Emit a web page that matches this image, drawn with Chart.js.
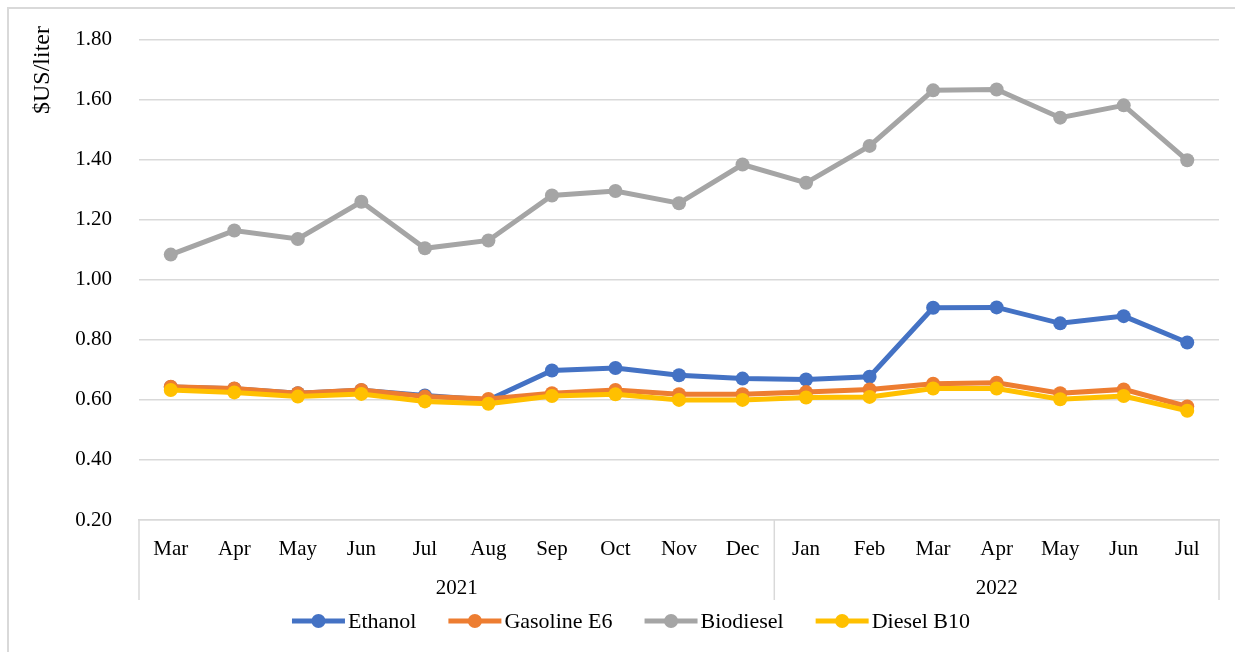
<!DOCTYPE html>
<html>
<head>
<meta charset="utf-8">
<script src="https://cdn.jsdelivr.net/npm/chart.js@4"></script>
<style>
	html, body { margin: 0; padding: 0; background: #fff; overflow: hidden; }
	#wrap { position: relative; width: 1235px; height: 652px; }
	#frame { position: absolute; left: 7px; top: 7px; width: 1240px; height: 660px; border: 2px solid #d9d9d9; box-sizing: border-box; }
	#myChart { position: absolute; left: 0; top: 0; }
</style>
</head>
<body>
<div id="wrap">
	<div id="frame"></div>
	<canvas id="myChart" width="1235" height="652"></canvas>
</div>
<script>

// 데이터
const months = ['Mar', 'Apr', 'May', 'Jun', 'Jul', 'Aug', 'Sep', 'Oct', 'Nov', 'Dec', 'Jan', 'Feb', 'Mar', 'Apr', 'May', 'Jun', 'Jul'];
const years = ['2021', '2022'];
const yearCounts = [10, 7];	// 각 연도에 속한 달 수

const ethanol = [0.643, 0.637, 0.622, 0.632, 0.615, 0.600, 0.698, 0.706, 0.682, 0.671, 0.668, 0.677, 0.907, 0.908, 0.855, 0.879, 0.791];
const gasolineE6 = [0.644, 0.638, 0.622, 0.633, 0.611, 0.603, 0.622, 0.633, 0.619, 0.619, 0.626, 0.635, 0.654, 0.657, 0.622, 0.635, 0.578];
const biodiesel = [1.084, 1.164, 1.136, 1.260, 1.105, 1.131, 1.281, 1.296, 1.255, 1.384, 1.323, 1.446, 1.631, 1.634, 1.540, 1.581, 1.398];
const dieselB10 = [0.633, 0.625, 0.611, 0.620, 0.595, 0.587, 0.613, 0.619, 0.600, 0.600, 0.608, 0.610, 0.638, 0.638, 0.602, 0.613, 0.564];

const yMin = 0.2;
const yMax = 1.8;
const yStep = 0.2;
const yTitle = '$US/liter';

const seriesNames = ['Ethanol', 'Gasoline E6', 'Biodiesel', 'Diesel B10'];
const seriesData = [ethanol, gasolineE6, biodiesel, dieselB10];
const seriesColors = ['#4472c4', '#ed7d31', '#a5a5a5', '#ffc000'];

const FONT = '"Liberation Serif", "Times New Roman", serif';

// 데이터셋 만들기
let datasets = [];
for (let i = 0; i < seriesNames.length; i++) {
	datasets.push({
		label: seriesNames[i],
		data: seriesData[i],
		borderColor: seriesColors[i],
		backgroundColor: seriesColors[i],
		pointBackgroundColor: seriesColors[i],
		borderWidth: 5,
		pointRadius: 7,
		pointBorderWidth: 0,
		order: seriesNames.length - i	// 뒤에 있는 시리즈가 위에 그려지도록
	});
}

// 연도 줄 + 구분선
const yearAxis = {
	id: 'yearAxis',
	afterDraw(chart) {
		const ctx = chart.ctx;
		const x = chart.scales.x;
		const area = chart.chartArea;
		const top = area.bottom;
		const bottom = 600;

		ctx.save();
		ctx.strokeStyle = '#d9d9d9';
		ctx.lineWidth = 1.5;

		let start = 0;
		let edges = [area.left];
		for (let i = 0; i < years.length; i++) {
			const end = start + yearCounts[i] - 1;
			const right = (i == years.length - 1) ? area.right
				: (x.getPixelForTick(end) + x.getPixelForTick(end + 1)) / 2;
			edges.push(right);
			start = end + 1;
		}
		edges.forEach(e => {
			ctx.beginPath();
			ctx.moveTo(e, top);
			ctx.lineTo(e, bottom);
			ctx.stroke();
		});

		ctx.fillStyle = '#000';
		ctx.font = '21px ' + FONT;
		ctx.textAlign = 'center';
		ctx.textBaseline = 'alphabetic';
		for (let i = 0; i < years.length; i++) {
			ctx.fillText(years[i], (edges[i] + edges[i + 1]) / 2, 594);
		}

		// y축 제목
		ctx.translate(43, 70);
		ctx.rotate(-Math.PI / 2);
		ctx.font = '24px ' + FONT;
		ctx.textBaseline = 'middle';
		ctx.fillText(yTitle, 0, 0);
		ctx.restore();
	}
};

// 범례 (선 + 점)
const lineLegend = {
	id: 'lineLegend',
	afterDraw(chart) {
		const ctx = chart.ctx;
		ctx.save();
		ctx.font = '22px ' + FONT;
		const lineLen = 53;
		const gap = 32;
		let widths = seriesNames.map(n => lineLen + 3 + ctx.measureText(n).width);
		let total = widths.reduce((a, b) => a + b, 0) + gap * (widths.length - 1);
		let x = 631 - total / 2;
		const y = 621;
		for (let i = 0; i < seriesNames.length; i++) {
			ctx.strokeStyle = seriesColors[i];
			ctx.fillStyle = seriesColors[i];
			ctx.lineWidth = 5;
			ctx.beginPath();
			ctx.moveTo(x, y);
			ctx.lineTo(x + lineLen, y);
			ctx.stroke();
			ctx.beginPath();
			ctx.arc(x + lineLen / 2, y, 7, 0, Math.PI * 2);
			ctx.fill();
			ctx.fillStyle = '#000';
			ctx.textAlign = 'left';
			ctx.textBaseline = 'middle';
			ctx.fillText(seriesNames[i], x + lineLen + 3, y + 1);
			x += widths[i] + gap;
		}
		ctx.restore();
	}
};

const ctx = document.getElementById('myChart');

new Chart(ctx, {
	type: 'line',
	data: {
		labels: months,
		datasets: datasets
	},
	options: {
		responsive: false,
		animation: false,
		layout: {
			padding: { left: 0, right: 16, top: 35, bottom: 0 }
		},
		plugins: {
			legend: { display: false },
			tooltip: { enabled: false }
		},
		scales: {
			x: {
				offset: true,
				grid: { display: false, drawTicks: false },
				border: { display: true, color: '#d9d9d9', width: 1.5 },
				ticks: {
					color: '#000',
					font: { family: FONT, size: 21 },
					padding: 17,
					maxRotation: 0,
					autoSkip: false
				},
				afterFit(scale) {
					scale.height = 652 - 520;
				}
			},
			y: {
				min: yMin,
				max: yMax,
				grid: { color: '#d9d9d9', lineWidth: 1.5, drawTicks: false },
				border: { display: false },
				ticks: {
					stepSize: yStep,
					color: '#000',
					font: { family: FONT, size: 21 },
					padding: 27,
					callback: v => v.toFixed(2)
				},
				afterFit(scale) {
					scale.width = 139;
				}
			}
		}
	},
	plugins: [yearAxis, lineLegend]
});
</script>
</body>
</html>
